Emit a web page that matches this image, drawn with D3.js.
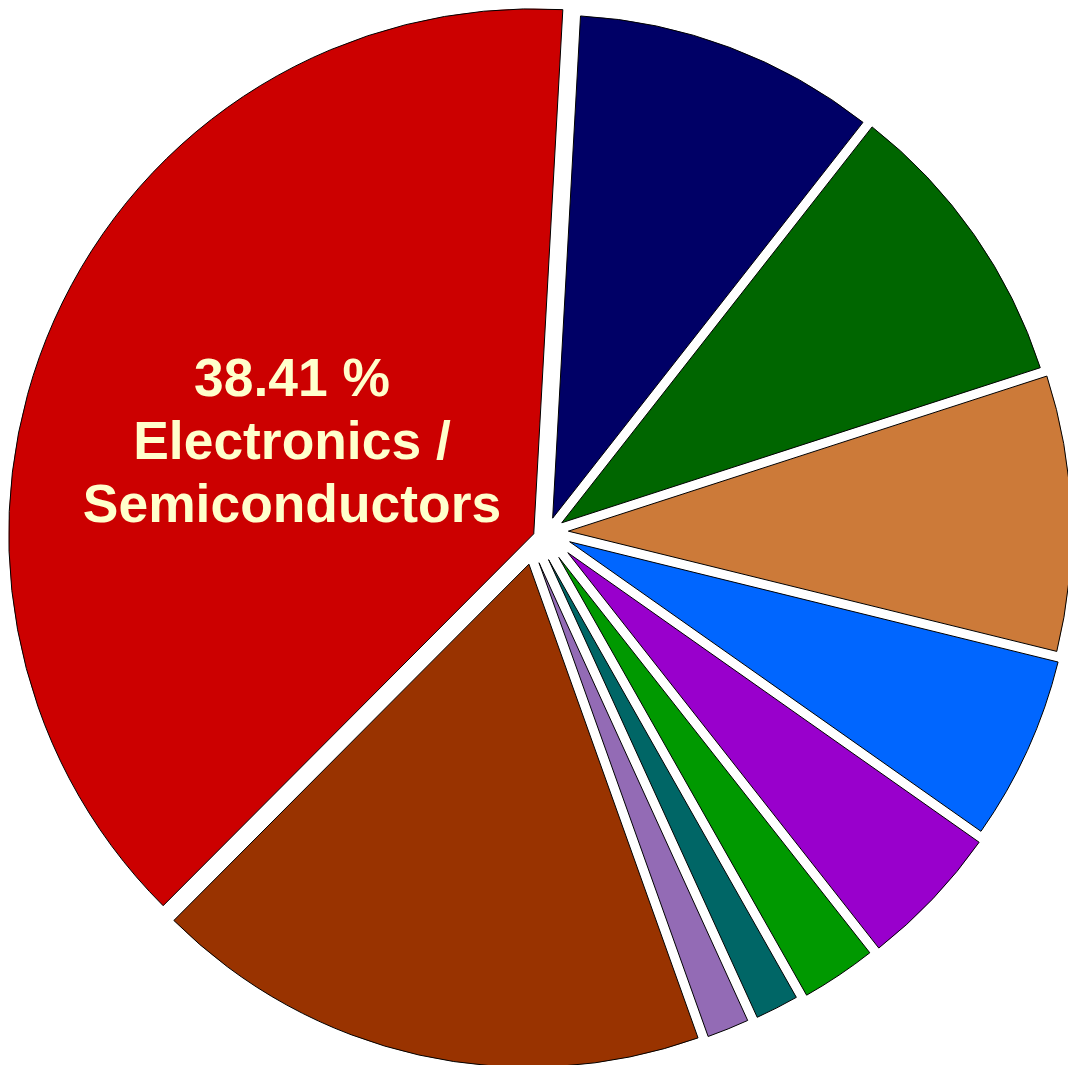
<!DOCTYPE html>
<html><head><meta charset="utf-8">
<script src="https://cdn.jsdelivr.net/npm/d3@7"></script>
<style>html,body{margin:0;padding:0;background:#fff;overflow:hidden}</style>
</head><body>
<svg id="chart" width="1068" height="1065"></svg>
<script>
// ---- data ----
const categories = ["Electronics / Semiconductors","Segment 2","Segment 3","Segment 4","Segment 5",
                    "Segment 6","Segment 7","Segment 8","Segment 9","Segment 10"];
const values = [38.41, 9.7, 9.43, 8.83, 5.92, 4.63, 2.41, 1.39, 1.35, 17.93];
const colors = ["#CC0000","#000066","#006600","#CC7A39","#0066FF","#9900CC","#009900","#006666","#936BB5","#993300"];
const labelLines = ["38.41 %","Electronics /","Semiconductors"];

// ---- layout ----
const cx = 549.8, cy = 540.9;
const baseR = 503, highlightR = 525;
const gap = 10, highlightGap = 18;
const startDeg = 224.9;
const spreadX = 1, spreadY = 1.5, sizeExp = 0.5;  // how explode offsets are shared between slices

const svg = d3.select("#chart");
const pie = d3.pie().sort(null).value(d => d)
  .startAngle(startDeg * Math.PI / 180)
  .endAngle(startDeg * Math.PI / 180 + 2 * Math.PI);
const arcs = pie(values);
const N = arcs.length;

// Explode: translate slices so that every pair of neighbours is separated by a
// parallel gap, choosing the smallest (weighted) translations that do so.
const nvec = a => [Math.cos(a), Math.sin(a)];
const phis = arcs.map(a => a.endAngle);
const gaps = arcs.map((a, k) => (k === 0 || k === N - 1) ? highlightGap : gap);
const w = values.map(v => Math.pow(v, -sizeExp));
const q = (a, i, b) => w[i] * (a[0]*b[0]*spreadX + a[1]*b[1]*spreadY);

const M = [];
for (let k = 0; k < N; k++) M.push(new Array(N).fill(0));
for (let k = 0; k < N; k++) {
  const kn = (k + 1) % N, kp = (k - 1 + N) % N;
  const nk = nvec(phis[k]);
  M[k][k] = q(nk, k, nk) + q(nk, kn, nk);
  M[k][kn] += -q(nk, kn, nvec(phis[kn]));
  M[k][kp] += -q(nk, k, nvec(phis[kp]));
}
function solve(A, b) {
  const n = b.length;
  const m = A.map((r, i) => r.concat([b[i]]));
  for (let c = 0; c < n; c++) {
    let p = c;
    for (let r = c + 1; r < n; r++) if (Math.abs(m[r][c]) > Math.abs(m[p][c])) p = r;
    [m[c], m[p]] = [m[p], m[c]];
    for (let r = 0; r < n; r++) {
      if (r === c) continue;
      const f = m[r][c] / m[c][c];
      for (let j = c; j <= n; j++) m[r][j] -= f * m[c][j];
    }
  }
  return m.map((r, i) => r[n] / r[i]);
}
const lambda = solve(M, gaps);
const trans = arcs.map((a, i) => {
  const kp = (i - 1 + N) % N;
  const np = nvec(phis[kp]), ni = nvec(phis[i]);
  return [w[i] * spreadX * (lambda[kp]*np[0] - lambda[i]*ni[0]),
          w[i] * spreadY * (lambda[kp]*np[1] - lambda[i]*ni[1])];
});

const g = svg.append("g");
arcs.forEach((a, i) => {
  const r = i === 0 ? highlightR : baseR;
  const arc = d3.arc().innerRadius(0).outerRadius(r);
  g.append("path")
    .attr("d", arc(a))
    .attr("transform", `translate(${cx + trans[i][0]},${cy + trans[i][1]})`)
    .attr("fill", colors[i])
    .attr("stroke", "#000")
    .attr("stroke-width", 1);
});

// label on highlighted slice
const a0 = arcs[0];
const mid = (a0.startAngle + a0.endAngle) / 2;
const lr = highlightR * 0.5;
const lx = cx + trans[0][0] + lr * Math.sin(mid) - 2;
const ly = cy + trans[0][1] - lr * Math.cos(mid) + 32;
const lineH = 63;
const t = svg.append("text")
  .attr("text-anchor", "middle")
  .attr("font-family", "Liberation Sans, Arial, sans-serif")
  .attr("font-weight", "bold")
  .attr("font-size", 53.4)
  .attr("fill", "#FFFFCC");
labelLines.forEach((s, i) => {
  t.append("tspan").attr("x", lx)
    .attr("y", ly + (i - 1) * lineH)
    .text(s);
});
</script>
</body></html>
